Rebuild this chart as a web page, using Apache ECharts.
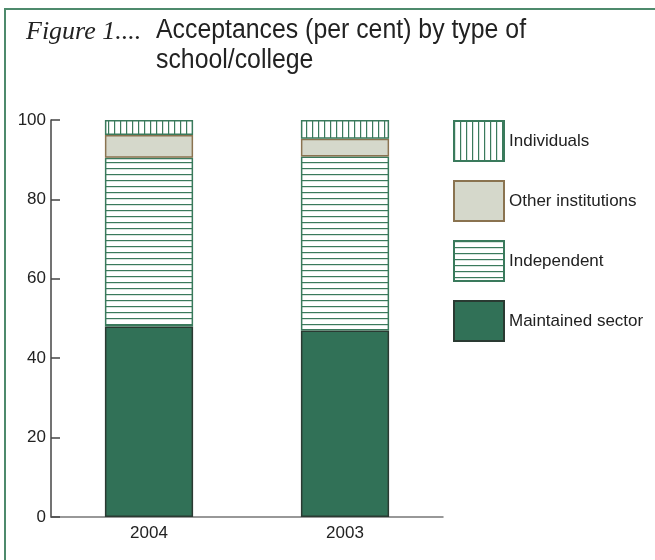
<!DOCTYPE html>
<html>
<head>
<meta charset="utf-8">
<script src="https://cdn.jsdelivr.net/npm/echarts@6/dist/echarts.min.js"></script>
<style>
html,body{margin:0;padding:0;background:#fff;}
#c{width:655px;height:560px;}
</style>
</head>
<body>
<div id="c"></div>
<script>
const categories = ['2004', '2003'];
const maintained = [48, 47];
const independent = [42.5, 43.8];
const otherInst = [5.7, 4.5];
const individuals = [3.8, 4.7];
const yTicks = [0, 20, 40, 60, 80, 100];

function linePattern(vertical) {
  const c = document.createElement('canvas');
  c.width = 6; c.height = 6;
  const g = c.getContext('2d');
  g.fillStyle = '#ffffff';
  g.fillRect(0, 0, 6, 6);
  g.fillStyle = '#3a7a5c';
  if (vertical) g.fillRect(0, 0, 1.2, 6); else g.fillRect(0, 0, 6, 1.2);
  return c;
}
const vPat = { image: linePattern(true), repeat: 'repeat' };
const hPat = { image: linePattern(false), repeat: 'repeat' };

const FONT = '"Liberation Sans", Arial, sans-serif';

const chart = echarts.init(document.getElementById('c'), null, { renderer: 'canvas' });
chart.setOption({
  animation: false,
  backgroundColor: '#fff',
  graphic: [
    { type: 'rect', shape: { x: 5, y: 9, width: 660, height: 560 },
      style: { fill: 'none', stroke: '#4e8a6c', lineWidth: 2 } },
    { type: 'text', x: 26, y: 32, style: { text: 'Figure 1....', font: 'italic 26px "Liberation Serif", serif', fill: '#222', verticalAlign: 'middle' } },
    { type: 'text', x: 156, y: 31, scaleX: 0.92, style: { text: 'Acceptances (per cent) by type of', font: '27px ' + FONT, fill: '#222', verticalAlign: 'middle' } },
    { type: 'text', x: 156, y: 61, scaleX: 0.92, style: { text: 'school/college', font: '27px ' + FONT, fill: '#222', verticalAlign: 'middle' } }
  ],
  grid: { left: 51, right: 212, top: 120, bottom: 43 },
  legend: {
    orient: 'vertical', left: 453, top: 120, padding: 0,
    itemWidth: 50, itemHeight: 40, itemGap: 18, icon: 'rect',
    data: ['Individuals', 'Other institutions', 'Independent', 'Maintained sector'],
    textStyle: { fontFamily: FONT, fontSize: 17, color: '#222' },
    selectedMode: false
  },
  xAxis: {
    type: 'category', data: categories,
    axisLine: { lineStyle: { color: '#777', width: 1.5 } },
    axisTick: { inside: true, length: 8, lineStyle: { color: '#666', width: 1.5 } },
    axisLabel: { fontFamily: FONT, fontSize: 17, color: '#222', margin: 8 }
  },
  yAxis: {
    type: 'value', min: 0, max: 100, interval: 20,
    axisLine: { show: true, lineStyle: { color: '#444', width: 1.5 } },
    axisTick: { show: true, inside: true, length: 9, lineStyle: { color: '#444', width: 1.5 } },
    axisLabel: { fontFamily: FONT, fontSize: 17, color: '#222', margin: 5,
      formatter: v => yTicks.includes(v) ? String(v) : '' },
    splitLine: { show: false }
  },
  series: [
    { name: 'Maintained sector', type: 'bar', stack: 't', data: maintained, barWidth: '45%',
      itemStyle: { color: '#317157', borderColor: '#2a3a32', borderWidth: 1.5 } },
    { name: 'Independent', type: 'bar', stack: 't', data: independent,
      itemStyle: { color: hPat, borderColor: '#3a7a5c', borderWidth: 1.5 } },
    { name: 'Other institutions', type: 'bar', stack: 't', data: otherInst,
      itemStyle: { color: '#d5d8cb', borderColor: '#8a7350', borderWidth: 1.5 } },
    { name: 'Individuals', type: 'bar', stack: 't', data: individuals,
      itemStyle: { color: vPat, borderColor: '#3a7a5c', borderWidth: 1.5 } }
  ]
});
</script>
</body>
</html>
